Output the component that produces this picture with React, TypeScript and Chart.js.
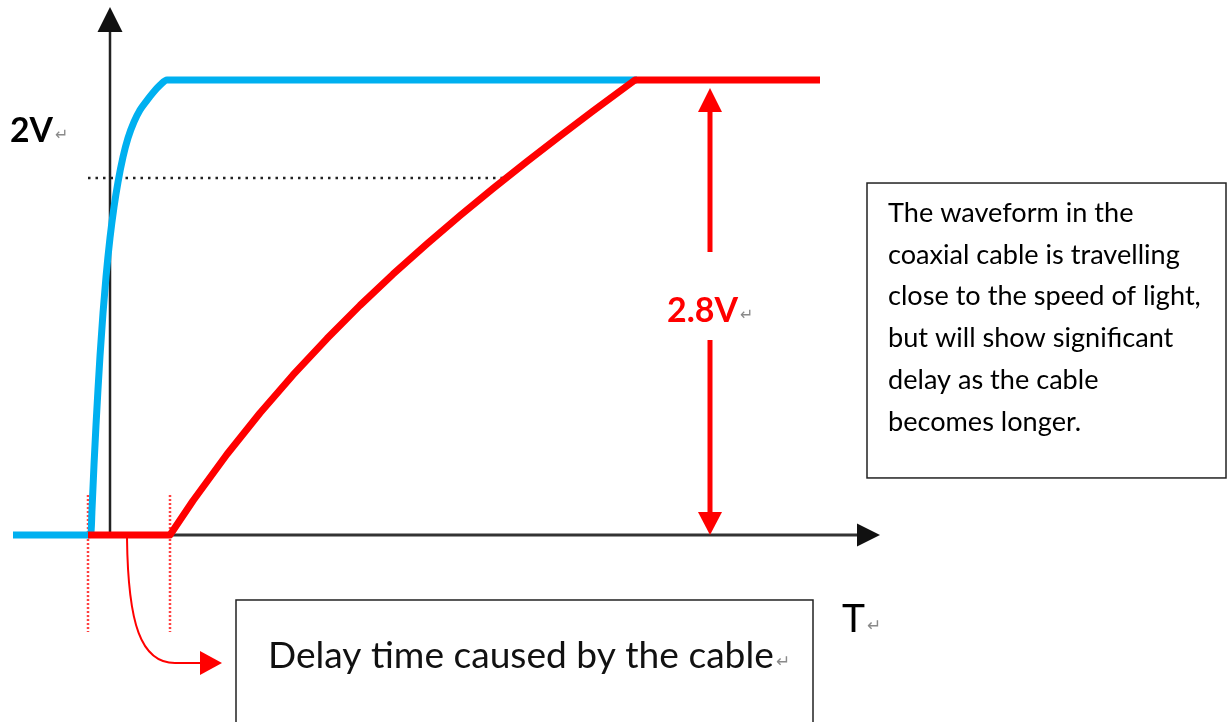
import React, { useEffect, useRef } from "react";
import { Chart, registerables } from "chart.js";
Chart.register(...registerables);

const W = 1228;
const H = 722;

// time axis (arbitrary units, 0 = vertical axis) and voltage (V)
const blueT = [-1.94, -0.44, -0.38, -0.36, -0.32, -0.28, -0.24, -0.2, -0.14, -0.08, 0, 0.08, 0.16, 0.26, 0.36, 0.48, 0.6, 0.74, 0.86, 1.0, 1.14, 10.54];
const blueV = [0, 0, 0.012, 0.154, 0.431, 0.677, 0.898, 1.102, 1.366, 1.588, 1.828, 2.018, 2.172, 2.326, 2.443, 2.542, 2.615, 2.675, 2.722, 2.768, 2.8, 2.8];
const redT = [-0.44, 1.2, 1.66, 2.34, 3.0, 3.66, 4.34, 5.0, 5.66, 6.34, 7.0, 7.66, 8.34, 9.0, 9.66, 10.5, 14.2];
const redV = [0, 0, 0.211, 0.497, 0.751, 0.985, 1.209, 1.413, 1.605, 1.791, 1.965, 2.132, 2.298, 2.455, 2.609, 2.8, 2.8];

// reference levels / times
const delayStart = -0.44;
const delayEnd = 1.2;
const dottedLevel = 2.197;
const dottedEndT = 7.86;
const fullLevel = 2.8;
const measureT = 12.0;
const xAxisEnd = 15.4;
const yAxisEnd = 3.249;

const xMin = -2.2, xMax = 22.36;
const yMin = -1.1508, yMax = 3.2923;

const labelLevel = "2V";
const labelSwing = "2.8V";
const labelTime = "T";
const delayNote = "Delay time caused by the cable";
const noteLines = [
  "The waveform in the",
  "coaxial cable is travelling",
  "close to the speed of light,",
  "but will show significant",
  "delay as the cable",
  "becomes longer.",
];

const pts = (ts: number[], vs: number[]) => ts.map((t, i) => ({ x: t, y: vs[i] }));

const FONT = "Lato, 'Open Sans', sans-serif";

const annotations = {
  id: "annotations",
  afterDatasetsDraw(chart: any) {
    const ctx = chart.ctx as CanvasRenderingContext2D;
    const X = (t: number) => chart.scales.x.getPixelForValue(t);
    const Y = (v: number) => chart.scales.y.getPixelForValue(v);
    const tri = (a: number[], b: number[], c: number[], color: string) => {
      ctx.beginPath();
      ctx.moveTo(X(a[0]), Y(a[1]));
      ctx.lineTo(X(b[0]), Y(b[1]));
      ctx.lineTo(X(c[0]), Y(c[1]));
      ctx.closePath();
      ctx.fillStyle = color;
      ctx.fill();
    };
    const fit = (text: string, weight: string, target: number) => {
      ctx.font = `${weight} 100px ${FONT}`;
      const w = ctx.measureText(text).width;
      return (100 * target) / w;
    };
    const ret = (x: number, y: number, size: number) => {
      ctx.save();
      ctx.font = `${size}px 'DejaVu Sans'`;
      ctx.fillStyle = "#8a8a8a";
      ctx.textAlign = "left";
      ctx.textBaseline = "alphabetic";
      ctx.fillText("\u21B5", x, y);
      ctx.restore();
    };
    ctx.save();
    // axis arrowheads
    tri([0, yAxisEnd], [-0.25, yAxisEnd - 0.154], [0.25, yAxisEnd - 0.154], "#111");
    tri([xAxisEnd, 0], [xAxisEnd - 0.46, 0.0708], [xAxisEnd - 0.46, -0.0708], "#111");
    // measurement arrowheads
    tri([measureT, fullLevel - 0.049], [measureT - 0.24, fullLevel - 0.197], [measureT + 0.24, fullLevel - 0.197], "#ff0000");
    tri([measureT, 0], [measureT - 0.24, 0.1415], [measureT + 0.24, 0.1415], "#ff0000");

    // curved pointer arrow
    ctx.beginPath();
    ctx.strokeStyle = "#ff0000";
    ctx.lineWidth = 2;
    ctx.moveTo(X(0.34), Y(-0.018));
    ctx.bezierCurveTo(X(0.36), Y(-0.55), X(0.62), Y(-0.788), X(1.3), Y(-0.788));
    ctx.lineTo(X(1.85), Y(-0.788));
    ctx.stroke();
    tri([2.24, -0.788], [1.8, -0.714], [1.8, -0.862], "#ff0000");

    // boxes
    ctx.strokeStyle = "#222";
    ctx.lineWidth = 1.5;
    ctx.strokeRect(X(2.52), Y(-0.4), X(14.06) - X(2.52), Y(-1.25) - Y(-0.4));
    ctx.strokeRect(X(15.14), Y(2.166), X(22.32) - X(15.14), Y(0.351) - Y(2.166));

    ctx.textAlign = "left";
    ctx.textBaseline = "alphabetic";
    // delay note
    let s = fit(delayNote, "400", 506);
    ctx.font = `400 ${s}px ${FONT}`;
    ctx.fillStyle = "#111";
    ctx.fillText(delayNote, X(3.16), Y(-0.818));
    ret(X(3.16) + 508, Y(-0.818) - 1, 17);

    // explanatory note
    s = fit(noteLines[2], "400", 313);
    ctx.font = `400 ${s}px ${FONT}`;
    ctx.fillStyle = "#000";
    noteLines.forEach((line, i) => {
      ctx.fillText(line, X(15.56), Y(1.927) + i * 41.8);
    });

    // 2V label
    s = fit(labelLevel, "700", 43);
    ctx.font = `700 ${s}px ${FONT}`;
    ctx.fillStyle = "#000";
    ctx.fillText(labelLevel, X(-2.0), Y(2.418));
    ret(X(-2.0) + 45, Y(2.418) - 2, 16);

    // 2.8V label
    s = fit(labelSwing, "700", 71);
    ctx.font = `700 ${s}px ${FONT}`;
    ctx.fillStyle = "#ff0000";
    ctx.fillText(labelSwing, X(11.14), Y(1.311));
    ret(X(11.14) + 73, Y(1.311) - 2, 16);

    // T label
    s = fit(labelTime, "400", 23);
    ctx.font = `400 ${s}px ${FONT}`;
    ctx.fillStyle = "#000";
    ctx.fillText(labelTime, X(14.64), Y(-0.597));
    ret(X(14.64) + 25, Y(-0.597) - 1, 17);

    ctx.restore();
  },
};

export default function App() {
  const ref = useRef<HTMLCanvasElement | null>(null);
  useEffect(() => {
    if (!ref.current) return;
    const base = { pointRadius: 0, fill: false, borderCapStyle: "butt" as const };
    const chart = new Chart(ref.current, {
      type: "line",
      data: {
        datasets: [
          {
            ...base,
            label: "cable end",
            data: pts(redT, redV),
            borderColor: "#ff0000",
            borderWidth: 7,
            tension: 0,
            borderJoinStyle: "round",
          },
          {
            ...base,
            label: "source",
            data: pts(blueT, blueV),
            borderColor: "#00b0f0",
            borderWidth: 7,
            cubicInterpolationMode: "monotone",
            borderJoinStyle: "round",
          },
          {
            ...base,
            label: "swing up",
            data: pts([measureT, measureT], [fullLevel - 0.19, 1.742]),
            borderColor: "#ff0000",
            borderWidth: 5,
          },
          {
            ...base,
            label: "swing down",
            data: pts([measureT, measureT], [1.2, 0.12]),
            borderColor: "#ff0000",
            borderWidth: 5,
          },
          {
            ...base,
            label: "x axis",
            data: pts([0, xAxisEnd - 0.4], [0, 0]),
            borderColor: "#333",
            borderWidth: 3,
          },
          {
            ...base,
            label: "y axis",
            data: pts([0, 0], [0, yAxisEnd - 0.12]),
            borderColor: "#222",
            borderWidth: 2.5,
          },
          {
            ...base,
            label: "level",
            data: pts([delayStart, dottedEndT], [dottedLevel, dottedLevel]),
            borderColor: "#222",
            borderWidth: 2.5,
            borderDash: [2.5, 5],
          },
          {
            ...base,
            label: "delay start",
            data: pts([delayStart, delayStart], [0.246, -0.597]),
            borderColor: "#ff4040",
            borderWidth: 2.5,
            borderDash: [2, 2],
          },
          {
            ...base,
            label: "delay end",
            data: pts([delayEnd, delayEnd], [0.246, -0.597]),
            borderColor: "#ff4040",
            borderWidth: 2.5,
            borderDash: [2, 2],
          },
        ],
      },
      options: {
        animation: false,
        responsive: false,
        layout: { padding: 0 },
        plugins: { legend: { display: false }, tooltip: { enabled: false } },
        scales: {
          x: { type: "linear", min: xMin, max: xMax, display: false },
          y: { type: "linear", min: yMin, max: yMax, display: false },
        },
      },
      plugins: [annotations],
    });
    return () => chart.destroy();
  }, []);
  return (
    <div style={{ position: "absolute", left: 0, top: 0, width: W, height: H, background: "#fff" }}>
      <canvas ref={ref} width={W} height={H} style={{ display: "block" }} />
    </div>
  );
}
